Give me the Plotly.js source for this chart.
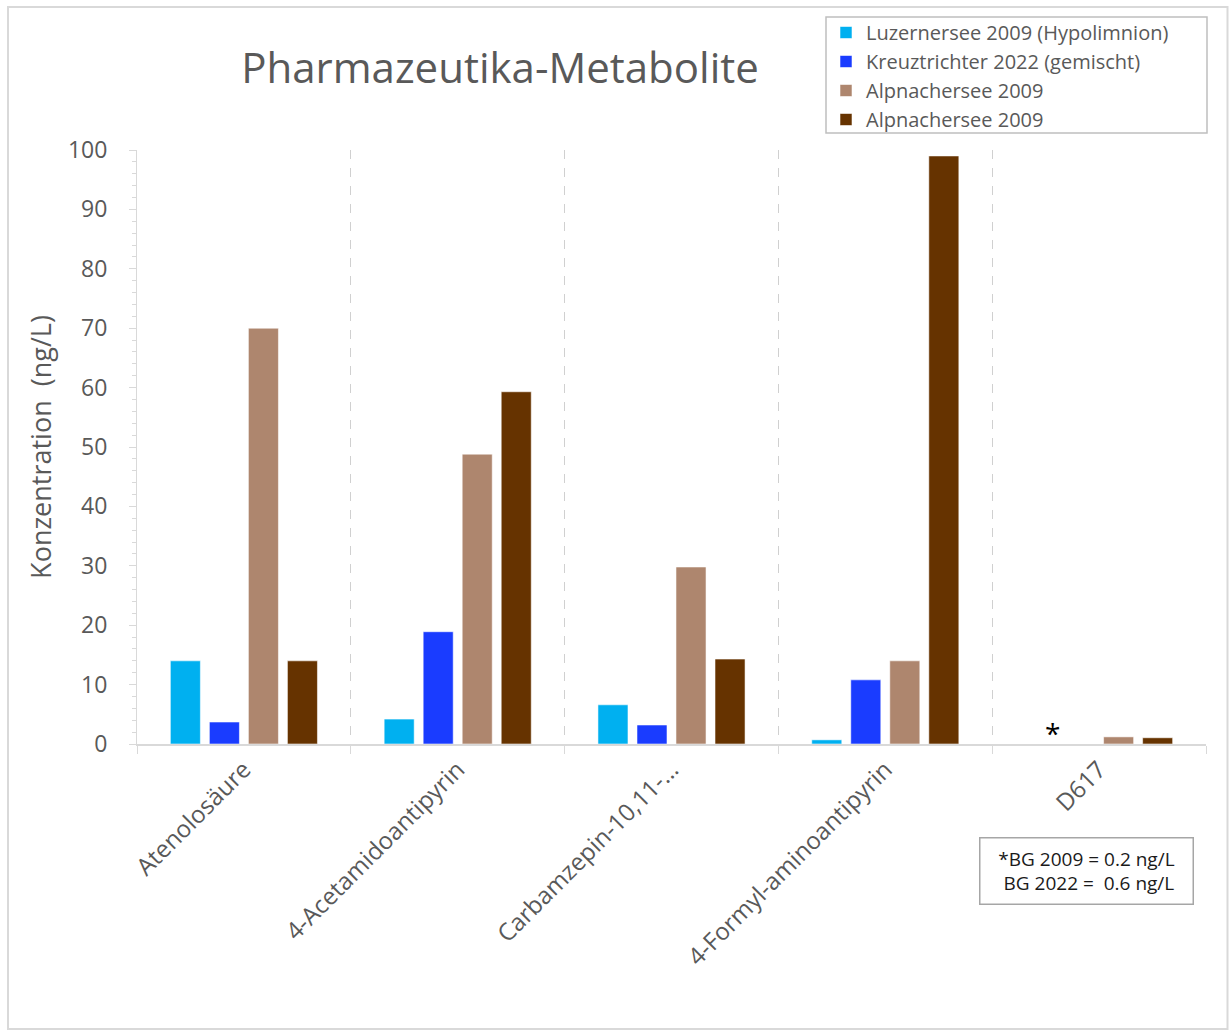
<!DOCTYPE html>
<html>
<head>
<meta charset="utf-8">
<script src="https://cdn.plot.ly/plotly-3.0.1.min.js"></script>
<style>
  html, body { margin: 0; padding: 0; background: #ffffff; }
  #chart { width: 1229px; height: 1030px; }
</style>
</head>
<body>
<div id="chart"></div>
<script>
// Substances measured
const categories = [
  "Atenolosäure",
  "4-Acetamidoantipyrin",
  "Carbamzepin-10,11-\u2026",
  "4-Formyl-aminoantipyrin",
  "D617"
];

// Concentrations in ng/L per sampling campaign
const luzernersee2009 = [14.0, 4.2, 6.6, 0.7, null];
const kreuztrichter2022 = [3.7, 18.9, 3.2, 10.8, null];
const alpnachersee2009a = [70.0, 48.8, 29.8, 14.0, 1.2];
const alpnachersee2009b = [14.0, 59.3, 14.3, 99.0, 1.05];

const seriesNames = [
  "Luzernersee 2009 (Hypolimnion)",
  "Kreuztrichter 2022 (gemischt)",
  "Alpnachersee 2009",
  "Alpnachersee 2009"
];
const seriesColors = ["#00B0F0", "#1A3CFF", "#AE866E", "#663300"];
const seriesValues = [luzernersee2009, kreuztrichter2022, alpnachersee2009a, alpnachersee2009b];

const yTickValues = [0, 10, 20, 30, 40, 50, 60, 70, 80, 90, 100];

const noteLines = ["*BG 2009 = 0.2 ng/L", "\u00a0BG 2022 = \u00a00.6 ng/L"];

const FONT = "Open Sans, Noto Sans, sans-serif";
const GREY_TEXT = "#595959";
const AXIS_GREY = "#d9d9d9";

const traces = seriesValues.map((vals, i) => ({
  type: "bar",
  name: seriesNames[i],
  x: categories,
  y: vals,
  marker: {
    color: seriesColors[i],
    line: { color: "rgba(255,255,255,0.55)", width: 1 }
  },
  hoverinfo: "x+y+name"
}));

// plot area in pixels: x 137..1206, y 150..744
const L = 137, R = 1206, T = 150, B = 744;
const W = R - L, H = B - T;
const px = x => (x - L) / W;
const py = y => (B - y) / H;

const layout = {
  width: 1229,
  height: 1030,
  margin: { l: L, r: 1229 - R, t: T, b: 1030 - B, pad: 0 },
  paper_bgcolor: "#ffffff",
  plot_bgcolor: "#ffffff",
  font: { family: FONT, color: GREY_TEXT, size: 20 },
  title: {
    text: "Pharmazeutika-Metabolite",
    font: { family: FONT, size: 42, color: GREY_TEXT },
    x: 500 / 1229,
    xref: "container",
    xanchor: "center",
    y: 1 - 68 / 1030,
    yref: "container",
    yanchor: "middle"
  },
  barmode: "group",
  bargap: 0.27,
  bargroupgap: 0.23,
  showlegend: true,
  legend: {
    x: px(826),
    y: py(13),
    xanchor: "left",
    yanchor: "top",
    bgcolor: "rgba(0,0,0,0)",
    borderwidth: 0,
    font: { family: FONT, size: 20, color: GREY_TEXT },
    tracegroupgap: 0,
    itemwidth: 30
  },
  xaxis: {
    type: "category",
    tickson: "boundaries",
    ticks: "outside",
    ticklen: 8,
    tickwidth: 1,
    tickcolor: AXIS_GREY,
    showline: true,
    linecolor: AXIS_GREY,
    linewidth: 2,
    showgrid: true,
    gridcolor: "#d0d0d0",
    griddash: "dash",
    gridwidth: 1,
    tickangle: -45,
    tickfont: { family: FONT, size: 24, color: GREY_TEXT },
    ticklabelstandoff: 0,
    fixedrange: true
  },
  yaxis: {
    range: [0, 100],
    tickvals: yTickValues,
    ticktext: yTickValues.map(String),
    ticks: "outside",
    ticklen: 7,
    tickcolor: AXIS_GREY,
    tickwidth: 1,
    minor: { dtick: 2, ticks: "outside", ticklen: 4, tickcolor: AXIS_GREY, showgrid: false },
    showline: true,
    linecolor: AXIS_GREY,
    linewidth: 1,
    showgrid: false,
    zeroline: false,
    tickfont: { family: FONT, size: 23, color: GREY_TEXT },
    ticklabelstandoff: 17,
    title: {
      text: "Konzentration\u00a0 (ng/L)",
      font: { family: FONT, size: 27, color: GREY_TEXT },
      standoff: 8
    },
    fixedrange: true
  },
  annotations: [
    {
      text: "*",
      xref: "paper", yref: "paper",
      x: px(1052), y: py(733),
      xanchor: "center", yanchor: "middle",
      showarrow: false,
      font: { family: FONT, size: 28, color: "#000000" }
    },
    {
      text: noteLines.join("<br>"),
      xref: "paper", yref: "paper",
      x: px(1086), y: py(870.5),
      xanchor: "center", yanchor: "middle",
      showarrow: false,
      align: "center",
      width: 210,
      height: 63,
      bgcolor: "#ffffff",
      bordercolor: "#a6a6a6",
      borderwidth: 1.5,
      borderpad: 1,
      font: { family: FONT, size: 19, color: "#1a1a1a" }
    }
  ],
  shapes: [
    {
      // chart area frame
      type: "rect",
      xref: "paper", yref: "paper",
      x0: px(8), x1: px(1227.5),
      y0: py(1029), y1: py(7),
      line: { color: AXIS_GREY, width: 2 },
      fillcolor: "rgba(0,0,0,0)",
      layer: "below"
    },
    {
      // legend frame
      type: "rect",
      xref: "paper", yref: "paper",
      x0: px(826), x1: px(1207),
      y0: py(133), y1: py(17),
      line: { color: "#bfbfbf", width: 1.5 },
      fillcolor: "#ffffff",
      layer: "below"
    }
  ]
};

Plotly.newPlot("chart", traces, layout, { displayModeBar: false, staticPlot: true });
</script>
</body>
</html>
